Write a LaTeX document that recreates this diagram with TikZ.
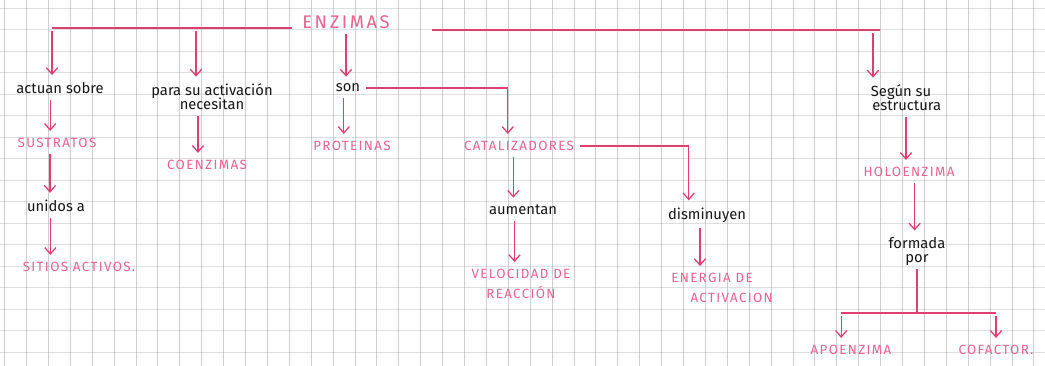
\documentclass[tikz,border=0pt]{standalone}
\usepackage{fontspec}
\setmainfont{Fira Sans}
\usetikzlibrary{arrows.meta,positioning}

\definecolor{penpink}{RGB}{224,62,112}
\definecolor{inkpink}{RGB}{230,100,142}
\definecolor{ink}{RGB}{22,22,22}
\definecolor{gridgray}{RGB}{150,150,150}

\begin{document}
\begin{tikzpicture}[
  x=0.025cm, y=-0.025cm,
  word/.style={font=\fontsize{10.5}{12}\selectfont, text=ink, inner sep=2pt, align=center},
  concept/.style={font=\fontsize{9.5}{14}\selectfont\addfontfeatures{LetterSpace=10}, text=inkpink,
                  inner sep=2pt, align=center},
  title/.style={concept, font=\fontsize{13}{15}\selectfont\addfontfeatures{LetterSpace=14}},
  link/.style={draw=penpink, line width=0.9pt},
  arr/.style={link, -{Straight Barb[length=1.6mm,width=2.8mm]}, shorten >=3pt, shorten <=2pt},
  vline/.style={draw=gridgray, line width=0.35pt, opacity=0.45},
  hline/.style={draw=gridgray, line width=0.35pt, opacity=0.3}
]
% sheet of squared paper
\fill[white] (0,0) rectangle (1045,366);
\useasboundingbox (0,0) rectangle (1045,366);
\foreach \gx in {4.4,26.3,...,1045} \draw[vline] (\gx,0) -- (\gx,366);
\foreach \gy in {8,29.5,...,366} \draw[hline] (0,\gy) -- (1045,\gy);

% root and first level
\node[title]  (enz)  at (346,22)  {ENZIMAS};
\node[word]   (act)  at (60,88)   {actuan sobre};
\node[word]   (para) at (212,97)  {para su activación\\[-2pt]necesitan};
\node[word]   (son)  at (348,88)  {son};
\node[word, align=left] (seg) at (906,98) {Según su\\[-2pt]\hspace*{1pt}estructura};

% second level
\node[concept] (sus) at (57,143)  {SUSTRATOS};
\node[concept] (coe) at (207,165) {COENZIMAS};
\node[concept] (pro) at (352,146) {PROTEINAS};
\node[concept] (cat) at (519,146) {CATALIZADORES};
\node[concept] (hol) at (909,172) {HOLOENZIMA};

% lower levels
\node[word]    (uni) at (56,206)  {unidos a};
\node[concept] (sit) at (79,267)  {SITIOS ACTIVOS.};
\node[word]    (aum) at (523,210) {aumentan};
\node[concept] (vel) at (521,284) {VELOCIDAD DE\\REACCIÓN};
\node[word]    (dis) at (707,215) {disminuyen};
\node[concept] (ene) at (712,288) {ENERGIA DE\\\hspace*{28pt}ACTIVACION};
\node[word]    (for) at (917,252) {formada\\[-2pt]por};
\node[concept] (apo) at (851,350) {APOENZIMA};
\node[concept] (cof) at (996,350) {COFACTOR.};

% branches under the title
\coordinate (barL) at (292,28);
\coordinate (jAct) at (52,28);
\coordinate (jPara) at (196,28);
\coordinate (barR) at (432,30);
\coordinate (barEnd) at (880,30);
\coordinate (jSeg) at (873,30);
\draw[link] (barL) -- (jAct);
\draw[arr] (jAct) -- (jAct |- act.north);
\draw[arr] (jPara) -- (jPara |- para.north);
\draw[arr] (enz.south) -- (enz.south |- son.north);
\draw[link] (barR) -- (barEnd);
\draw[arr] (jSeg) -- (jSeg |- seg.north);

% left column
\draw[arr] ([xshift=-7pt]act.south) -- ([xshift=-7pt]act.south |- sus.north);
\draw[arr] ([xshift=-5pt]sus.south) -- ([xshift=-5pt]sus.south |- uni.north);
\draw[arr] ([xshift=-4pt]uni.south) -- ([xshift=-4pt]uni.south |- sit.north);
\draw[arr] ([xshift=-10pt]para.south) -- ([xshift=-10pt]para.south |- coe.north);

% son
\draw[arr] ([xshift=-3pt]son.south) -- ([xshift=-3pt]son.south |- pro.north);
\draw[arr] (son.east) -| ([xshift=-8pt]cat.north);
\draw[arr] ([xshift=-4pt]cat.south) -- ([xshift=-4pt]cat.south |- aum.north);
\draw[arr] (cat.east) -| ([xshift=-13pt]dis.north);
\draw[arr] ([xshift=-6pt]aum.south) -- ([xshift=-6pt]aum.south |- vel.north);
\draw[arr] ([xshift=-5pt]dis.south) -- ([xshift=-5pt]dis.south |- ene.north);

% structure branch
\draw[arr] (seg.south) -- (seg.south |- hol.north);
\draw[arr] ([xshift=4pt]hol.south) -- ([xshift=4pt]hol.south |- for.north);
\coordinate (jFor) at (919,313);
\draw[link] (for.south) -- (for.south |- jFor);
\draw[link] ([xshift=-7pt]apo.north |- jFor) -- (cof.north |- jFor);
\draw[arr] ([xshift=-7pt]apo.north |- jFor) -- ([xshift=-7pt]apo.north);
\draw[arr] (cof.north |- jFor) -- (cof.north);
\end{tikzpicture}
\end{document}
